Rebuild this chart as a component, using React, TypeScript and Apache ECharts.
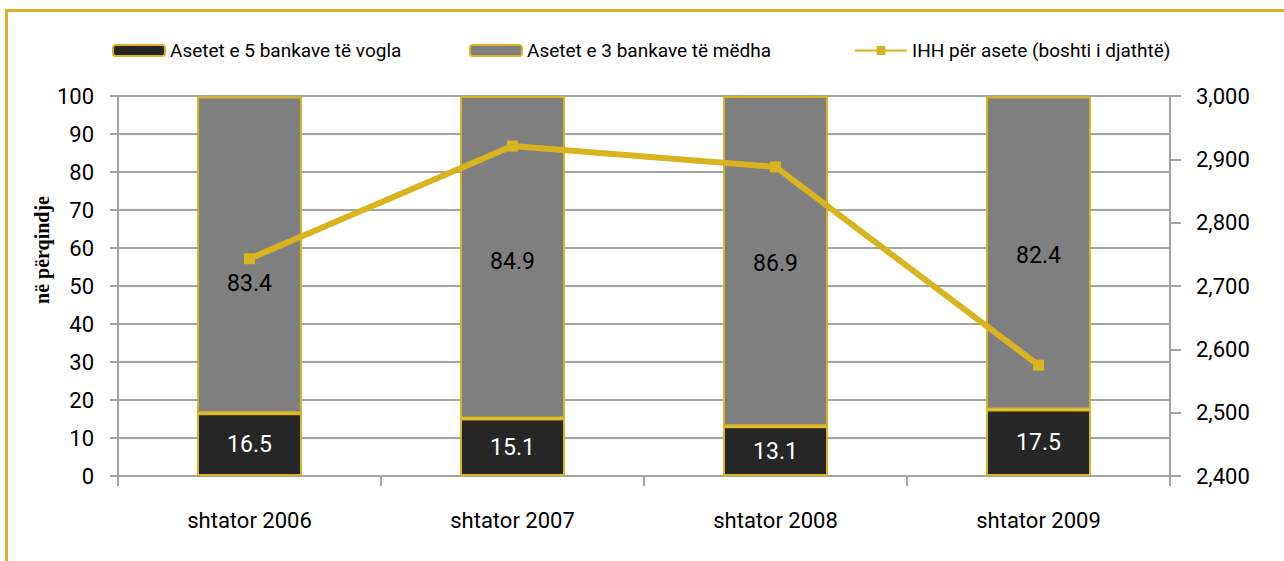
import React, { useEffect, useRef } from "react";
import * as echarts from "echarts";

const categories = ["shtator 2006", "shtator 2007", "shtator 2008", "shtator 2009"];
const smallBanks = [16.5, 15.1, 13.1, 17.5];
const bigBanks = [83.4, 84.9, 86.9, 82.4];
const hhiAssets = [2743, 2921, 2888, 2575];
const leftTicks = { min: 0, max: 100, interval: 10 };
const rightTicks = { min: 2400, max: 3000, interval: 100 };
const seriesNames = [
  "Asetet e 5 bankave të vogla",
  "Asetet e 3 bankave të mëdha",
  "IHH për asete (boshti i djathtë)",
];
const yAxisTitle = "në përqindje";

const bigLabelOffsets = [29, 4, 2, 3];

const YELLOW = "#D9B41F";
const GRID = "#A3A3A3";
const FONT = "Roboto, 'Open Sans', sans-serif";

export default function App() {
  const ref = useRef<HTMLDivElement>(null);
  useEffect(() => {
    if (!ref.current) return;
    const chart = echarts.init(ref.current, undefined, { renderer: "svg" });
    const legendCommon = {
      top: 36,
      itemWidth: 52,
      itemHeight: 11,
      textStyle: { fontFamily: FONT, fontSize: 19, color: "#000" },
      selectedMode: false,
    };
    chart.setOption({
      animation: false,
      backgroundColor: "#fff",
      textStyle: { fontFamily: FONT },
      legend: [
        { ...legendCommon, left: 107, data: [seriesNames[0]] },
        { ...legendCommon, left: 464, data: [seriesNames[1]] },
        { ...legendCommon, left: 849, data: [seriesNames[2]] },
      ],
      grid: { left: 118, right: 114, top: 96, bottom: 85, containLabel: false },
      xAxis: {
        type: "category",
        data: categories,
        axisLine: { show: true, lineStyle: { color: GRID, width: 2 } },
        axisTick: { show: true, length: 10, interval: 0, alignWithLabel: false, lineStyle: { color: GRID, width: 2 } },
        axisLabel: { color: "#000", fontSize: 22, fontFamily: FONT, margin: 33 },
      },
      yAxis: [
        {
          type: "value",
          min: leftTicks.min,
          max: leftTicks.max,
          interval: leftTicks.interval,
          axisLine: { show: true, lineStyle: { color: GRID, width: 2 } },
          axisTick: { show: true, length: 8, lineStyle: { color: GRID, width: 2 } },
          splitLine: { show: true, lineStyle: { color: GRID, width: 2 } },
          axisLabel: { color: "#000", fontSize: 22, fontFamily: FONT, margin: 24 },
        },
        {
          type: "value",
          min: rightTicks.min,
          max: rightTicks.max,
          interval: rightTicks.interval,
          axisLine: { show: true, lineStyle: { color: GRID, width: 2 } },
          axisTick: { show: true, length: 11, lineStyle: { color: GRID, width: 2 } },
          splitLine: { show: false },
          axisLabel: {
            color: "#000",
            fontSize: 22,
            fontFamily: FONT,
            margin: 26,
            formatter: (v: number) => v.toLocaleString("en-US"),
          },
        },
      ],
      graphic: [
        {
          type: "rect",
          shape: { x: 6.5, y: 10.5, width: 1400, height: 700 },
          style: { fill: "none", stroke: YELLOW, lineWidth: 3 },
          silent: true,
        },
        {
          type: "text",
          x: 42,
          y: 250,
          rotation: Math.PI / 2,
          style: {
            text: yAxisTitle,
            fontFamily: "'Liberation Serif', 'Times New Roman', serif",
            fontSize: 20,
            fontWeight: "bold",
            fill: "#000",
            align: "center",
            verticalAlign: "middle",
          },
        },
      ],
      series: [
        {
          name: seriesNames[0],
          type: "bar",
          stack: "a",
          barWidth: 105,
          data: smallBanks,
          itemStyle: { color: "#262626", borderColor: YELLOW, borderWidth: 2 },
          label: {
            show: true,
            position: "inside",
            color: "#fff",
            fontSize: 23,
            fontFamily: FONT,
            formatter: (p: any) => p.value.toFixed(1),
          },
        },
        {
          name: seriesNames[1],
          type: "bar",
          stack: "a",
          barWidth: 105,
          data: bigBanks.map((v, i) => ({
            value: v,
            label: { offset: [0, bigLabelOffsets[i]] },
          })),
          itemStyle: { color: "#7F7F7F", borderColor: YELLOW, borderWidth: 2 },
          label: {
            show: true,
            position: "inside",
            color: "#000",
            fontSize: 23,
            fontFamily: FONT,
            formatter: (p: any) => Number(p.value).toFixed(1),
          },
        },
        {
          name: seriesNames[2],
          type: "line",
          yAxisIndex: 1,
          data: hhiAssets,
          symbol: "rect",
          symbolSize: 11,
          lineStyle: { color: YELLOW, width: 6 },
          itemStyle: { color: YELLOW, borderColor: YELLOW, borderWidth: 0 },
          z: 5,
        },
      ],
    });
    return () => chart.dispose();
  }, []);
  return (
    <div
      ref={ref}
      style={{ position: "absolute", left: 0, top: 0, width: 1284, height: 561 }}
    />
  );
}
